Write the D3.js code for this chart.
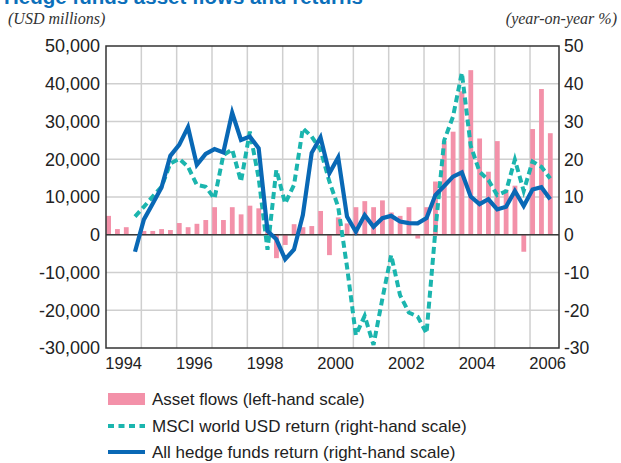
<!DOCTYPE html>
<meta charset="utf-8" />
<script src="https://d3js.org/d3.v7.js"></script>
<style>
  body { margin: 0; background: #fff; }
  text { font-family: "Liberation Sans", Arial, sans-serif; }
</style>
<div id="chart"></div>
<script>
  // quarterly data, 1994Q1 .. 2006Q3
  const quarters = d3.range(51).map(function (k) {
    return (1994 + Math.floor(k / 4)) + "Q" + ((k % 4) + 1);
  });
  // asset flows (USD millions)
  const assetFlows = [
    5000, 1500, 2000, 0,
    1000, 1000, 1500, 1250,
    3100, 2000, 2900, 3900,
    7300, 3900, 7300, 5400,
    7700, 7000, 1500, -6200,
    -2700, 2800, 2000, 2300,
    6300, -5400, 4600, 3000,
    7300, 8900, 7300, 9100,
    5900, 5000, 7300, -1000,
    7300, 14100, 24800, 27300,
    38000, 43600, 25500, 16700,
    24800, 11900, 13000, -4500,
    28000, 38600, 26900
  ];
  // MSCI world USD return (%)
  const msciReturn = [
    null, null, null, 4.8,
    7.4, 10.1, 12.7, 18.9,
    20.1, 18.0, 13.2, 12.7,
    9.6, 21.1, 22.6, 14.1,
    27.3, 15.0, -4.0, 17.2,
    8.3, 13.2, 28.2, 26.0,
    22.5, 14.1, 7.4, -8.5,
    -26.6, -21.5, -29.2, -17.0,
    -5.4, -16.0, -20.6, -21.7,
    -26.1, 1.0, 25.0, 31.3,
    42.9, 23.6, 16.7, 14.5,
    10.5, 11.5, 19.9, 11.6,
    19.4, 18.0, 14.9
  ];
  // all hedge funds return (%)
  const hedgeReturn = [
    null, null, null, -4.5,
    4.0, 8.2, 12.5, 20.9,
    23.8, 28.5, 18.5, 21.4,
    22.7, 21.8, 32.3, 25.1,
    26.0, 22.9, 1.0, -1.2,
    -6.5, -3.9, 5.2, 21.7,
    25.8, 16.3, 20.5, 4.8,
    0.8, 5.2, 2.1, 4.4,
    5.0, 3.5, 3.1, 3.0,
    4.4, 10.5, 12.9, 15.4,
    16.5, 10.1, 8.1, 9.4,
    6.7, 7.4, 11.6, 7.6,
    12.0, 12.6, 9.4
  ];
  const yearLabels = ["1994", "1996", "1998", "2000", "2002", "2004", "2006"];
  const leftTicks = [-30000, -20000, -10000, 0, 10000, 20000, 30000, 40000, 50000];
  const rightTicks = [-30, -20, -10, 0, 10, 20, 30, 40, 50];

  const width = 621,
    height = 463;
  const plot = { left: 106, right: 559, top: 46, bottom: 348 };

  const colBar = "#f391a9",
    colMsci = "#1bb5ae",
    colHedge = "#0968b5",
    colTitle = "#0b6fba";

  const svg = d3
    .select("#chart")
    .append("svg")
    .attr("width", width)
    .attr("height", height);

  const x = d3.scaleLinear().domain([1994, 2006.82]).range([plot.left, plot.right]);
  const yL = d3.scaleLinear().domain([-30000, 50000]).range([plot.bottom, plot.top]);
  const yR = d3.scaleLinear().domain([-30, 50]).range([plot.bottom, plot.top]);

  const tq = function (k) {
    return 1994 + k / 4;
  };
  const fmt = d3.format(",");

  // title and units
  svg
    .append("text")
    .attr("x", 4)
    .attr("y", 4)
    .style("font-size", "20.5px")
    .style("font-weight", "bold")
    .style("fill", colTitle)
    .text("Hedge funds asset flows and returns");

  svg
    .append("text")
    .attr("x", 8)
    .attr("y", 24)
    .style("font-family", '"Liberation Serif", "Times New Roman", serif')
    .style("font-style", "italic")
    .style("font-size", "16px")
    .style("fill", "#333")
    .text("(USD millions)");

  svg
    .append("text")
    .attr("x", 617)
    .attr("y", 24)
    .attr("text-anchor", "end")
    .style("font-family", '"Liberation Serif", "Times New Roman", serif')
    .style("font-style", "italic")
    .style("font-size", "16px")
    .style("fill", "#333")
    .text("(year-on-year %)");

  // grid
  const grid = svg.append("g").attr("class", "grid");
  grid
    .selectAll("line.h")
    .data(leftTicks.slice(1, -1))
    .join("line")
    .attr("class", "h")
    .attr("x1", plot.left)
    .attr("x2", plot.right)
    .attr("y1", (d) => yL(d))
    .attr("y2", (d) => yL(d))
    .attr("stroke", "#cfcfcf")
    .attr("stroke-width", 1.5);
  grid
    .selectAll("line.v")
    .data(d3.range(1995, 2007))
    .join("line")
    .attr("class", "v")
    .attr("x1", (d) => x(d))
    .attr("x2", (d) => x(d))
    .attr("y1", plot.top)
    .attr("y2", plot.bottom)
    .attr("stroke", "#cfcfcf")
    .attr("stroke-width", 1.5);

  // bars
  svg
    .append("g")
    .selectAll("rect")
    .data(assetFlows)
    .join("rect")
    .attr("x", (d, i) => x(tq(i)) + 0.2)
    .attr("width", 4.8)
    .attr("y", (d) => Math.min(yL(d), yL(0)))
    .attr("height", (d) => Math.abs(yL(d) - yL(0)))
    .attr("fill", colBar);

  // zero line
  svg
    .append("line")
    .attr("x1", plot.left)
    .attr("x2", plot.right)
    .attr("y1", yL(0))
    .attr("y2", yL(0))
    .attr("stroke", "#3a3a3a")
    .attr("stroke-width", 1.5);

  const line = d3
    .line()
    .defined((d) => d != null)
    .x((d, i) => x(tq(i)) + 2.5)
    .y((d) => yR(d));

  svg
    .append("path")
    .datum(msciReturn)
    .attr("d", line)
    .attr("fill", "none")
    .attr("stroke", colMsci)
    .attr("stroke-width", 4)
    .attr("stroke-dasharray", "7,4");

  svg
    .append("path")
    .datum(hedgeReturn)
    .attr("d", line)
    .attr("fill", "none")
    .attr("stroke", colHedge)
    .attr("stroke-width", 4.2)
    .attr("stroke-linejoin", "miter");

  // frame
  svg
    .append("rect")
    .attr("x", plot.left)
    .attr("y", plot.top)
    .attr("width", plot.right - plot.left)
    .attr("height", plot.bottom - plot.top)
    .attr("fill", "none")
    .attr("stroke", "#333")
    .attr("stroke-width", 1.5);

  // left axis labels (plain hyphen for negatives)
  svg
    .append("g")
    .selectAll("text")
    .data(leftTicks)
    .join("text")
    .attr("x", plot.left - 6)
    .attr("y", (d) => yL(d))
    .attr("dy", "0.36em")
    .attr("text-anchor", "end")
    .style("font-size", "18px")
    .style("fill", "#222")
    .text((d) => fmt(d).replace("\u2212", "-"));

  // right axis labels
  svg
    .append("g")
    .selectAll("text")
    .data(rightTicks)
    .join("text")
    .attr("x", plot.right + 5)
    .attr("y", (d) => yR(d))
    .attr("dy", "0.36em")
    .style("font-size", "17.5px")
    .style("fill", "#222")
    .text((d) => d);

  // x labels, centred in the year
  svg
    .append("g")
    .selectAll("text")
    .data(yearLabels)
    .join("text")
    .attr("x", (d) => x(+d + 0.5))
    .attr("y", 369)
    .attr("text-anchor", "middle")
    .style("font-size", "16.5px")
    .style("fill", "#222")
    .text((d) => d);

  // legend
  const legend = svg.append("g").attr("transform", "translate(108,0)");
  const legendItems = [
    { label: "Asset flows (left-hand scale)", type: "bar", y: 399 },
    { label: "MSCI world USD return (right-hand scale)", type: "dash", y: 426 },
    { label: "All hedge funds return (right-hand scale)", type: "line", y: 452 }
  ];
  legendItems.forEach(function (d) {
    if (d.type === "bar") {
      legend
        .append("rect")
        .attr("x", 0)
        .attr("y", d.y - 6)
        .attr("width", 37)
        .attr("height", 12)
        .attr("fill", colBar);
    } else {
      legend
        .append("line")
        .attr("x1", 0)
        .attr("x2", 37)
        .attr("y1", d.y)
        .attr("y2", d.y)
        .attr("stroke", d.type === "dash" ? colMsci : colHedge)
        .attr("stroke-width", 4)
        .attr("stroke-dasharray", d.type === "dash" ? "6,4.5" : null);
    }
    legend
      .append("text")
      .attr("x", 44)
      .attr("y", d.y)
      .attr("dy", "0.36em")
      .style("font-size", "17px")
      .style("fill", "#222")
      .text(d.label);
  });
</script>
